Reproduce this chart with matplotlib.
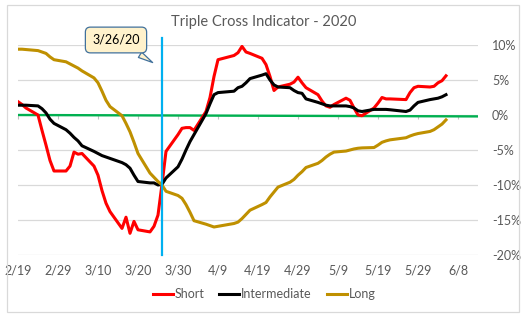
import numpy as np
import pandas as pd
import matplotlib
matplotlib.use("Agg")
import matplotlib.pyplot as plt
from matplotlib.patches import Rectangle

plt.rcParams['font.family'] = ['Lato', 'DejaVu Sans']

# trading days, values in %
dates = ["2/19", "2/20", "2/21", "2/24", "2/25", "2/26", "2/27", "2/28",
         "3/2", "3/3", "3/4", "3/5", "3/6",
         "3/9", "3/10", "3/11", "3/12", "3/13",
         "3/16", "3/17", "3/18", "3/19", "3/20",
         "3/23", "3/24", "3/25", "3/26", "3/27",
         "3/30", "3/31", "4/1", "4/2", "4/3",
         "4/6", "4/7", "4/8", "4/9",
         "4/13", "4/14", "4/15", "4/16", "4/17",
         "4/20", "4/21", "4/22", "4/23", "4/24",
         "4/27", "4/28", "4/29", "4/30", "5/1",
         "5/4", "5/5", "5/6", "5/7", "5/8",
         "5/11", "5/12", "5/13", "5/14", "5/15",
         "5/18", "5/19", "5/20", "5/21", "5/22",
         "5/26", "5/27", "5/28", "5/29",
         "6/1", "6/2", "6/3", "6/4", "6/5"]

short = [1.9, 1.5, 1.0, 0.0, -2.2, -4.3, -6.5, -8.0,
         -8.0, -7.3, -5.3, -5.6, -5.5,
         -7.3, -8.6, -10.8, -12.6, -13.8,
         -16.2, -14.6, -16.9, -15.2, -16.4,
         -16.7, -15.9, -14.3, -9.9, -5.2,
         -2.8, -1.9, -1.8, -1.8, -2.2,
         0.5, 2.5, 5.5, 7.9,
         8.5, 8.9, 9.8, 9.0, 8.8,
         8.1, 7.2, 5.5, 3.5, 4.0,
         4.4, 4.7, 5.4, 4.6, 3.9,
         2.9, 2.0, 1.3, 1.1, 1.5,
         2.4, 2.1, 1.0, 0.0, -0.1,
         1.0, 1.7, 2.5, 2.3, 2.3,
         2.2, 3.2, 3.9, 4.1,
         4.0, 4.1, 4.6, 4.9, 5.6]

intermediate = [1.4, 1.4, 1.4, 1.3, 0.9, 0.3, -0.6, -1.2,
                -2.1, -2.6, -3.2, -3.7, -4.4,
                -5.2, -5.5, -5.8, -6.0, -6.2,
                -6.8, -7.1, -7.6, -8.6, -9.5,
                -9.7, -9.7, -10.0, -9.9, -9.0,
                -7.4, -6.3, -5.0, -3.8, -2.8,
                0.2, 1.6, 2.9, 3.2,
                3.4, 3.9, 4.1, 4.6, 5.2,
                5.7, 5.9, 5.0, 4.3, 4.0,
                3.9, 3.5, 3.2, 3.1, 2.3,
                1.8, 1.6, 1.4, 1.3, 1.3,
                1.3, 1.2, 1.0, 0.6, 0.5,
                0.8, 0.8, 0.8, 0.8, 0.75,
                0.5, 0.7, 1.3, 1.8,
                2.2, 2.3, 2.4, 2.6, 2.9]

long = [9.4, 9.4, 9.35, 9.2, 9.0, 8.8, 8.3, 7.9,
        7.6, 7.3, 7.0, 6.7, 6.3,
        5.3, 4.6, 3.4, 2.1, 1.2,
        -0.1, -1.2, -2.4, -3.9, -5.5,
        -8.3, -8.9, -9.5, -10.0, -10.9,
        -11.5, -11.9, -12.8, -13.9, -15.1,
        -15.6, -15.8, -16.0, -15.9,
        -15.5, -15.3, -14.8, -14.2, -13.6,
        -12.8, -12.5, -11.7, -11.0, -10.3,
        -9.6, -9.2, -8.6, -8.1, -7.5,
        -6.9, -6.5, -6.0, -5.6, -5.3,
        -5.15, -5.0, -4.85, -4.75, -4.7,
        -4.65, -4.3, -3.9, -3.7, -3.55,
        -3.25, -3.0, -2.8, -2.65,
        -2.35, -2.1, -1.7, -1.3, -0.7]

tick_dates = ["2/19", "2/29", "3/10", "3/20", "3/30", "4/9", "4/19",
              "4/29", "5/9", "5/19", "5/29", "6/8"]
x_range = ["2/19", "6/13"]
y_ticks = [-20, -15, -10, -5, 0, 5, 10]
zero_line = [0.0, -0.2]
cross_date = "3/26"
callout_text = "3/26/20"
title = "Triple Cross Indicator - 2020"


def to_dt(lst):
    return pd.to_datetime([s + "/2020" for s in lst], format="%m/%d/%Y")


x = to_dt(dates)
ticks = to_dt(tick_dates)
xlim = to_dt(x_range)
cross = to_dt([cross_date])[0]

W, H = 528, 321
fig = plt.figure(figsize=(W / 100, H / 100), dpi=100)
ax = fig.add_axes([18 / W, 66 / H, 460 / W, 210 / H])

grey_txt = "#595959"
ax.set_xlim(xlim[0], xlim[1])
ax.set_ylim(-20, 10)
ax.set_yticks(y_ticks)
ax.set_yticklabels([f"{v}%" for v in y_ticks])
ax.yaxis.tick_right()
ax.set_xticks(ticks)
ax.set_xticklabels([f"{d.month}/{d.day}" for d in ticks])
ax.tick_params(axis="both", length=0, labelsize=9, colors=grey_txt)
ax.tick_params(axis="x", pad=7)
ax.tick_params(axis="y", pad=10)
for lab in ax.get_yticklabels():
    lab.set_horizontalalignment("left")
ax.grid(axis="y", color="#D9D9D9", lw=0.9)
ax.set_axisbelow(True)
for s in ax.spines.values():
    s.set_visible(False)

# axis tick marks sit on the zero line
sec = ax.secondary_xaxis(20 / 30)
sec.set_xticks(ticks)
sec.xaxis.set_ticks_position("bottom")
sec.tick_params(length=3, color="#BFBFBF", labelbottom=False, labeltop=False)
for s in sec.spines.values():
    s.set_visible(False)

ax.plot(xlim, zero_line, color="#00B050", lw=1.7)

l1, = ax.plot(x, short, color="#FF0000", lw=2.2, label="Short")
l2, = ax.plot(x, intermediate, color="#000000", lw=2.2, label="Intermediate")
l3, = ax.plot(x, long, color="#BF9000", lw=2.2, label="Long")

ax.axvline(cross, ymin=0, ymax=(11 + 20) / 30, color="#00B0F0", lw=1.6, clip_on=False)

ax.annotate(callout_text, xy=(155 / W, 1 - 64 / H), xycoords="figure fraction",
            xytext=(116 / W, 1 - 40 / H), textcoords="figure fraction",
            ha="center", va="center", fontsize=9,
            bbox=dict(boxstyle="round,pad=0.55,rounding_size=0.4", fc="#FFF2CC", ec="#41719C", lw=0.9),
            arrowprops=dict(arrowstyle="wedge,tail_width=0.5,shrink_factor=0.5", fc="#FFF2CC", ec="#41719C", lw=0.9))

fig.text(264 / W, 1 - 22 / H, title, ha="center", va="center", fontsize=10.5, color=grey_txt)

fig.legend(handles=[l1, l2, l3], loc="center", bbox_to_anchor=(264 / W, 1 - 294 / H), ncol=3,
           frameon=False, fontsize=9, handlelength=1.6, handletextpad=0.15, columnspacing=1.2,
           labelcolor=grey_txt)

fig.patches.append(Rectangle((7 / W, 1 - 312 / H), 512 / W, 307 / H, transform=fig.transFigure,
                             fill=False, ec="#D9D9D9", lw=0.9))

fig.savefig("out.png", dpi=100)
